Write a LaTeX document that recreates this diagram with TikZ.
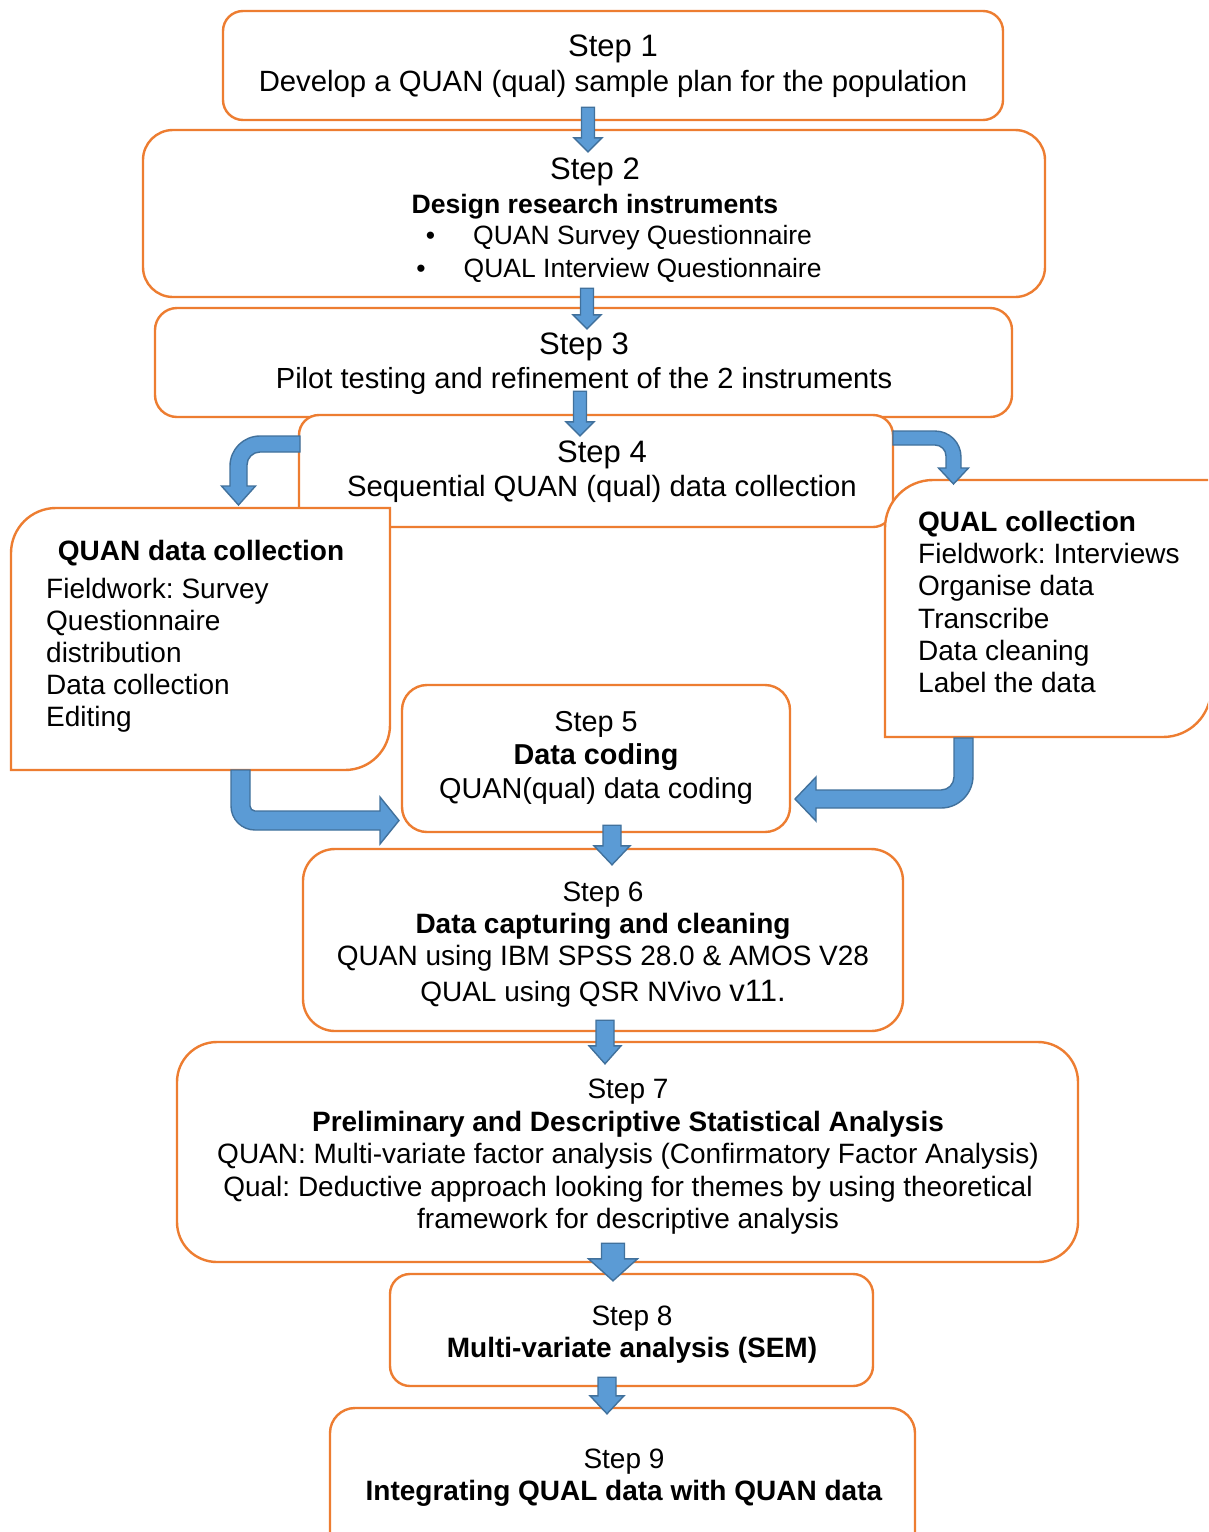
\documentclass[tikz,border=0pt]{standalone}
\usepackage{fontspec}
\setmainfont{Liberation Sans}
\usetikzlibrary{calc}

\definecolor{boxorange}{HTML}{ED7D31}
\definecolor{arrowblue}{HTML}{5B9BD5}
\definecolor{arrowedge}{HTML}{41719C}

\tikzset{
  stepbox/.style={draw=boxorange, line width=2.4pt, fill=white, rounded corners=#1, inner sep=0pt},
  stepbox/.default=20pt,
  sidebox/.style={draw=boxorange, line width=2.4pt, fill=white},
  boxtext/.style={inner sep=0pt, align=center, anchor=north, text=black},
  listtext/.style={inner sep=0pt, align=left, anchor=north west, text=black},
  blockarrow/.style={fill=arrowblue, draw=arrowedge, line width=1.4pt, line join=miter},
}

% straight block arrow pointing down, from #1 to #2
\newcommand\downblock[5]{% from, to, shaft half-width, head half-width, head length
  \filldraw[blockarrow] let \p1=(#1), \p2=(#2) in
    (\x1-#3pt,\y1) -- (\x1+#3pt,\y1) -- (\x1+#3pt,\y2+#5pt) -- (\x1+#4pt,\y2+#5pt)
    -- (\x1,\y2) -- (\x1-#4pt,\y2+#5pt) -- (\x1-#3pt,\y2+#5pt) -- cycle;}

\begin{document}
\frenchspacing
\begin{tikzpicture}[x=1pt,y=-1pt]
\useasboundingbox (0,0) rectangle (1208,1532);
\clip (0,0) rectangle (1208,1532);
\fill[white] (0,0) rectangle (1208,1532);

% upper step boxes
\node[stepbox=20pt, minimum width=780pt, minimum height=109pt] (s1) at (613,65.5) {};
\node[stepbox=30pt, minimum width=902pt, minimum height=167pt] (s2) at (594,213.5) {};
\node[stepbox=22pt, minimum width=857pt, minimum height=109pt] (s3) at (583.5,362.5) {};
\node[stepbox=20pt, minimum width=594pt, minimum height=112pt] (s4) at (596,471) {};

% the two collection boxes (rounded on one diagonal)
\node[inner sep=0pt, minimum width=379pt, minimum height=262pt] (quan) at (200.5,639) {};
\draw[sidebox] (11,770) -- (11,553) .. controls (11,528.2) and (31.2,508) .. (56,508)
  -- (390,508) -- (390,725) .. controls (390,749.9) and (369.9,770) .. (345,770) -- cycle;
\node[inner sep=0pt, minimum width=326pt, minimum height=257pt] (qual) at (1048,608.5) {};
\draw[sidebox] (885,737) -- (885,528) .. controls (885,501.5) and (906.5,480) .. (933,480)
  -- (1211,480) -- (1211,689) .. controls (1211,715.5) and (1189.5,737) .. (1163,737) -- cycle;

% lower step boxes
\node[stepbox=25pt, minimum width=388pt, minimum height=147pt] (s5) at (596,758.5) {};
\node[stepbox=32pt, minimum width=600pt, minimum height=182pt] (s6) at (603,940) {};
\node[stepbox=40pt, minimum width=901pt, minimum height=220pt] (s7) at (627.5,1152) {};
\node[stepbox=20pt, minimum width=483pt, minimum height=112pt] (s8) at (631.5,1330) {};
\node[stepbox=25pt, minimum width=585pt, minimum height=152pt] (s9) at (622.5,1484) {};

% texts
\node[boxtext, font=\fontsize{29.3}{35}\selectfont] (t1) at (613,34.5)
  {{\fontsize{31}{35}\selectfont Step 1}\\Develop a QUAN (qual) sample plan for the population};
\node[boxtext, font=\fontsize{26.6}{34}\selectfont] (t2) at (595,157.5)
  {{\fontsize{31}{34}\selectfont Step 2}\\\textbf{Design research instruments}};
\node[boxtext, font=\fontsize{26.5}{33}\selectfont] (t2b) at (619,225)
  {\textbullet\hspace{38pt}QUAN Survey Questionnaire\\\textbullet\hspace{38pt}QUAL Interview Questionnaire};
\node[boxtext, font=\fontsize{29.1}{34}\selectfont] (t3) at (584,332.5)
  {{\fontsize{31}{34}\selectfont Step 3}\\Pilot testing and refinement of the 2 instruments};
\node[boxtext, font=\fontsize{29.3}{34}\selectfont] (t4) at (602,440.5)
  {{\fontsize{31}{34}\selectfont Step 4}\\Sequential QUAN (qual) data collection};

\node[boxtext, font=\fontsize{28}{32}\selectfont\bfseries] (tq1) at (201,540) {QUAN data collection};
\node[listtext, font=\fontsize{28}{32}\selectfont] (tq2) at (46,578)
  {Fieldwork: Survey\\Questionnaire\\distribution\\Data collection\\Editing};
\node[listtext, font=\fontsize{28}{32.2}\selectfont] (tl) at (918,511)
  {\textbf{QUAL collection}\\Fieldwork: Interviews\\Organise data\\Transcribe\\Data cleaning\\Label the data};

\node[boxtext, font=\fontsize{28.8}{33.5}\selectfont] (t5) at (596,711)
  {Step 5\\\textbf{Data coding}\\QUAN(qual) data coding};
\node[boxtext, font=\fontsize{28}{32}\selectfont] (t6) at (603,882)
  {Step 6\\\textbf{Data capturing and cleaning}\\QUAN using IBM SPSS 28.0 \& AMOS V28\\[4pt]QUAL using QSR NVivo {\fontsize{31}{32}\selectfont v11.}};
\node[boxtext, font=\fontsize{28}{32.5}\selectfont] (t7) at (628,1079)
  {Step 7\\\textbf{Preliminary and Descriptive Statistical Analysis}\\QUAN: Multi-variate factor analysis (Confirmatory Factor Analysis)\\Qual: Deductive approach looking for themes by using theoretical\\framework for descriptive analysis};
\node[boxtext, font=\fontsize{28}{32}\selectfont] (t8) at (632,1306)
  {Step 8\\\textbf{Multi-variate analysis (SEM)}};
\node[boxtext, font=\fontsize{28}{32}\selectfont] (t9) at (624,1449)
  {Step 9\\\textbf{Integrating QUAL data with QUAN data}};

% straight block arrows between consecutive steps
\coordinate (a1s) at ($(s1.south -| 588,0)+(0,-14)$);
\coordinate (a1e) at ($(s2.north -| 588,0)+(0,23)$);
\downblock{a1s}{a1e}{6.5}{14}{14}
\coordinate (a2s) at ($(s2.south -| 587,0)+(0,-10)$);
\coordinate (a2e) at ($(s3.north -| 587,0)+(0,22)$);
\downblock{a2s}{a2e}{6.5}{14}{14}
\coordinate (a3s) at ($(s3.south -| 580,0)+(0,-27)$);
\coordinate (a3e) at ($(s4.north -| 580,0)+(0,22)$);
\downblock{a3s}{a3e}{6.5}{14}{14}
\coordinate (a5s) at ($(s5.south -| 612,0)+(0,-8)$);
\coordinate (a5e) at ($(s6.north -| 612,0)+(0,17)$);
\downblock{a5s}{a5e}{9}{18}{19}
\coordinate (a6s) at ($(s6.south -| 605,0)+(0,-12)$);
\coordinate (a6e) at ($(s7.north -| 605,0)+(0,23)$);
\downblock{a6s}{a6e}{9}{16}{18}
\coordinate (a7s) at ($(s7.south -| 613,0)+(0,-20)$);
\coordinate (a7e) at ($(s8.north -| 613,0)+(0,8)$);
\downblock{a7s}{a7e}{11.5}{24.5}{22}
\coordinate (a8s) at ($(s8.south -| 607,0)+(0,-10)$);
\coordinate (a8e) at ($(s9.north -| 607,0)+(0,7)$);
\downblock{a8s}{a8e}{9}{17}{18}

% bent arrow: Step 4 -> QUAN data collection
\filldraw[blockarrow] (300,436) -- (260,436) .. controls (243.4,436) and (230,449.4) .. (230,466)
  -- (230,486) -- (221.5,486) -- (238.5,505) -- (255.5,486) -- (247,486) -- (247,465)
  .. controls (247,457.8) and (252.8,452) .. (260,452) -- (300,452) -- cycle;
% bent arrow: Step 4 -> QUAL collection
\filldraw[blockarrow] (893,431) -- (935,431) .. controls (949.4,431) and (961,442.6) .. (961,457)
  -- (961,468) -- (968.5,468) -- (953.5,484) -- (938.5,468) -- (946,468) -- (946,456)
  .. controls (946,449.9) and (941.1,445) .. (935,445) -- (893,445) -- cycle;
% bent arrow: QUAN data collection -> Step 5
\filldraw[blockarrow] (231,770) -- (250,770) -- (250,806) .. controls (250,808.8) and (252.2,811) .. (255,811)
  -- (380,811) -- (380,797) -- (399,820.5) -- (380,844) -- (380,830) -- (255,830)
  .. controls (241.7,830) and (231,819.3) .. (231,806) -- cycle;
% bent arrow: QUAL collection -> Step 5
\filldraw[blockarrow] (954,738) -- (973,738) -- (973,776) .. controls (973,793.7) and (958.7,808) .. (941,808)
  -- (816,808) -- (816,821) -- (795,799) -- (816,777) -- (816,790) -- (941,790)
  .. controls (948.2,790) and (954,784.2) .. (954,777) -- cycle;
\end{tikzpicture}
\end{document}
